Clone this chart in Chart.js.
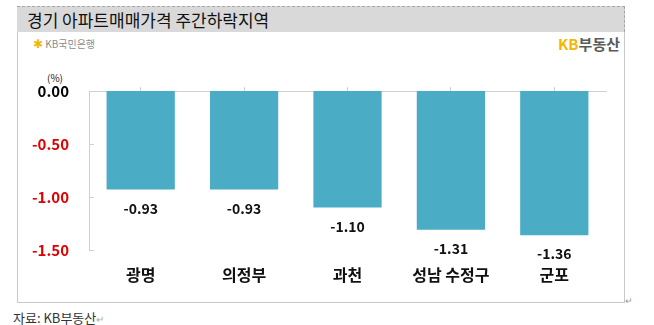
<!DOCTYPE html>
<html>
<head>
<meta charset="utf-8">
<script src="https://cdn.jsdelivr.net/npm/chart.js@4"></script>
<style>
  html, body { margin: 0; padding: 0; background: #fff; }
  body { width: 654px; height: 325px; position: relative; overflow: hidden;
         font-family: "Noto Sans CJK KR", "Noto Sans", sans-serif; }
  .frame { position: absolute; left: 17px; top: 6px; width: 606px; height: 296px;
           border: 1px solid #c8c8c8; border-top: none; box-sizing: content-box; }
  .titlebar { position: absolute; left: 17px; top: 6px; width: 607px; height: 25px;
              background: #d9d9d9; border-top: 1px dashed #a6a6a6; border-right: 1px dashed #a6a6a6; }
  .title { position: absolute; left: 27px; top: 7px; font-size: 17px; color: #111; letter-spacing: 0px; }
  .kbbank { position: absolute; left: 33px; top: 34px; font-size: 10px; color: #8c8c8c; }
  .kbbank .star { color: #f2b705; font-size: 12px; }
  .kbland { position: absolute; right: 34px; top: 33px; font-size: 15px; color: #5a5a5a; font-weight: bold; }
  .kbland .kb { color: #f7b500; }
  .unit { position: absolute; left: 47px; top: 70px; font-size: 10px; color: #222; }
  .source { position: absolute; left: 13px; top: 308px; font-size: 13px; color: #333; }
  .ret { color: #aaa; font-size: 10px; }
  .ret2 { position: absolute; left: 625px; top: 294px; color: #999; font-size: 9px; }
  #wrap { position: absolute; left: 20px; top: 60px; width: 600px; height: 240px; }
</style>
</head>
<body>
<div class="frame"></div>
<div class="titlebar"></div>
<div class="title">경기 아파트매매가격 주간하락지역</div>
<div class="kbbank"><span class="star">✱</span> KB국민은행</div>
<div class="kbland"><span class="kb">KB</span>부동산</div>
<div class="unit">(%)</div>
<div id="wrap"><canvas id="chart"></canvas></div>
<div class="source">자료: KB부동산<span class="ret">↵</span></div>
<div class="ret2">↵</div>

<script>
/* ── Data ────────────────────────────────────────────── */
const regions = ['광명', '의정부', '과천', '성남 수정구', '군포'];
const changes = [-0.93, -0.93, -1.10, -1.31, -1.36];
const yTicks = [0, -0.5, -1.0, -1.5];

const FONT = '"Noto Sans CJK KR", "Noto Sans", sans-serif';

/* ── Plugins ─────────────────────────────────────────── */
// value labels under each bar
const valueLabels = {
  id: 'valueLabels',
  afterDatasetsDraw(chart) {
    const ctx = chart.ctx;
    const meta = chart.getDatasetMeta(0);
    ctx.save();
    ctx.font = 'bold 14px ' + FONT;
    ctx.fillStyle = '#111';
    ctx.textAlign = 'center';
    ctx.textBaseline = 'middle';
    meta.data.forEach((bar, i) => {
      ctx.fillText(changes[i].toFixed(2), bar.x, bar.y + 19);
    });
    ctx.restore();
  }
};

// small tick marks on the inner side of the value axis
const innerTicks = {
  id: 'innerTicks',
  afterDraw(chart) {
    const y = chart.scales.y;
    const ctx = chart.ctx;
    ctx.save();
    ctx.strokeStyle = '#d0d0d0';
    ctx.lineWidth = 1;
    y.ticks.forEach(t => {
      const py = Math.round(y.getPixelForValue(t.value)) + 0.5;
      ctx.beginPath();
      ctx.moveTo(y.right, py);
      ctx.lineTo(y.right + 5, py);
      ctx.stroke();
    });
    ctx.restore();
  }
};

/* ── Chart ───────────────────────────────────────────── */
new Chart(document.getElementById('chart'), {
  type: 'bar',
  data: {
    labels: regions,
    datasets: [{
      data: changes,
      backgroundColor: '#4bacc6',
      borderWidth: 0,
      barPercentage: 0.66,
      categoryPercentage: 1
    }]
  },
  options: {
    responsive: true,
    maintainAspectRatio: false,
    animation: false,
    layout: { padding: { left: 0, right: 14, top: 0, bottom: 0 } },
    plugins: { legend: { display: false }, tooltip: { enabled: false } },
    scales: {
      x: {
        position: 'bottom',
        grid: { display: false, drawTicks: false },
        border: { display: false },
        ticks: {
          padding: 15,
          color: '#111',
          font: { family: FONT, size: 16, weight: 'bold' }
        },
        afterFit(scale) { scale.height = 50; }
      },
      x2: {
        position: 'top',
        labels: regions,
        grid: { drawOnChartArea: false, offset: false, tickLength: 4, color: '#d0d0d0' },
        border: { display: true, color: '#d0d0d0' },
        ticks: { display: false },
        afterFit(scale) { scale.height = 31; }
      },
      y: {
        min: -1.5,
        max: 0,
        afterBuildTicks(scale) { scale.ticks = yTicks.map(v => ({ value: v })); },
        grid: { display: false, drawTicks: false },
        border: { display: true, color: '#d0d0d0' },
        ticks: {
          padding: 20,
          font: { family: FONT, size: 15, weight: 'bold' },
          color: ctx => ctx.tick && ctx.tick.value === 0 ? '#000' : '#e00000',
          callback: v => Number(v).toFixed(2)
        },
        afterFit(scale) { scale.width = 69; }
      }
    }
  },
  plugins: [valueLabels, innerTicks]
});
</script>
</body>
</html>
